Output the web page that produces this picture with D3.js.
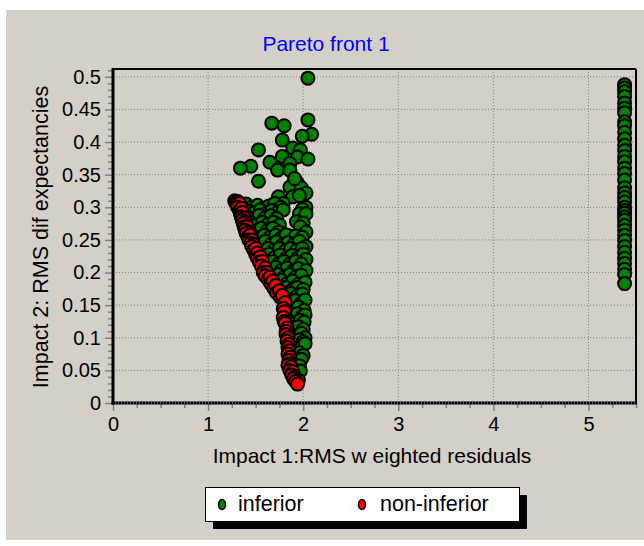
<!DOCTYPE html>
<html>
<head>
<meta charset="utf-8">
<script src="https://cdn.jsdelivr.net/npm/d3@7"></script>
<style>
  body { margin: 0; background: #ffffff; }
  text { font-family: "Liberation Sans", Arial, sans-serif; }
</style>
</head>
<body>
<svg id="chart" width="644" height="546"></svg>
<script>
// ---- chart text ----
const chartTitle = "Pareto front 1";
const xTitle = "Impact 1:RMS w eighted residuals";
const yTitle = "Impact 2: RMS dif expectancies";
const seriesNames = ["inferior", "non-inferior"];

// ---- axis ticks ----
const xTicks = [0, 1, 2, 3, 4, 5];
const xTickLabels = ["0", "1", "2", "3", "4", "5"];
const yTicks = [0, 0.05, 0.1, 0.15, 0.2, 0.25, 0.3, 0.35, 0.4, 0.45, 0.5];
const yTickLabels = ["0", "0.05", "0.1", "0.15", "0.2", "0.25", "0.3", "0.35", "0.4", "0.45", "0.5"];

// ---- inferior solutions [impact1, impact2] ----
const inferiorUpper = [
  [2.05,0.498],[2.05,0.434],[1.67,0.429],[1.80,0.425],[2.09,0.412],[1.99,0.409],
  [1.78,0.403],[1.53,0.388],[1.89,0.391],[1.97,0.388],[1.78,0.378],[1.94,0.377],
  [2.05,0.374],[1.65,0.369],[1.86,0.367],[1.45,0.363],[1.34,0.360],[1.73,0.357],
  [1.86,0.357],[1.53,0.340],[1.94,0.337],[1.86,0.331],[1.98,0.330],[1.91,0.344],
  [2.03,0.322],[1.89,0.316],[1.74,0.316],[1.96,0.318],[2.03,0.300],[1.79,0.306]
];
const inferiorCloud = [
  [1.40,0.305],[1.46,0.300],[1.52,0.303],[1.58,0.298],[1.64,0.302],[1.70,0.306],[1.76,0.300],
  [1.43,0.294],[1.49,0.292],[1.55,0.296],[1.61,0.291],[1.67,0.295],[1.73,0.292],[1.79,0.296],[1.99,0.297],
  [1.42,0.285],[1.48,0.282],[1.54,0.288],[1.60,0.284],[1.66,0.287],[1.72,0.283],[1.96,0.290],[2.03,0.290],
  [1.45,0.276],[1.51,0.273],[1.57,0.277],[1.63,0.274],[1.69,0.277],[1.75,0.273],[1.93,0.278],[2.00,0.276],
  [1.44,0.266],[1.50,0.262],[1.56,0.268],[1.62,0.264],[1.68,0.268],[1.74,0.262],[1.86,0.256],[1.97,0.270],[2.03,0.262],
  [1.47,0.256],[1.53,0.253],[1.59,0.257],[1.65,0.254],[1.71,0.257],[1.77,0.253],[1.82,0.258],[1.92,0.256],[1.99,0.254],
  [1.48,0.246],[1.54,0.242],[1.60,0.248],[1.66,0.243],[1.72,0.247],[1.78,0.242],[1.84,0.246],[1.90,0.243],[1.96,0.248],[2.03,0.240],
  [1.51,0.236],[1.57,0.233],[1.63,0.237],[1.69,0.234],[1.75,0.237],[1.81,0.233],[1.87,0.237],[1.93,0.234],[1.99,0.237],
  [1.52,0.226],[1.58,0.222],[1.64,0.228],[1.70,0.223],[1.76,0.227],[1.82,0.222],[1.88,0.226],[1.94,0.222],[2.00,0.228],[2.03,0.220],
  [1.56,0.216],[1.62,0.213],[1.68,0.217],[1.74,0.213],[1.80,0.217],[1.86,0.213],[1.92,0.217],[1.98,0.213],
  [1.59,0.206],[1.65,0.202],[1.71,0.208],[1.77,0.203],[1.83,0.207],[1.89,0.202],[1.95,0.206],[2.03,0.203],
  [1.62,0.196],[1.68,0.193],[1.74,0.197],[1.80,0.193],[1.86,0.197],[1.92,0.193],[1.98,0.196],
  [1.65,0.186],[1.71,0.182],[1.77,0.188],[1.83,0.183],[1.89,0.187],[1.95,0.182],[2.02,0.185],
  [1.70,0.176],[1.76,0.173],[1.82,0.177],[1.88,0.173],[1.94,0.177],[2.00,0.174],
  [1.75,0.166],[1.81,0.162],[1.87,0.168],[1.93,0.163],[1.99,0.167],
  [1.81,0.156],[1.86,0.153],[1.92,0.157],[1.98,0.153],[2.02,0.158],
  [1.83,0.146],[1.89,0.142],[1.95,0.147],[2.01,0.142],
  [1.84,0.136],[1.88,0.132],[1.94,0.137],[1.99,0.133],[2.02,0.135],
  [1.85,0.126],[1.91,0.122],[1.97,0.127],[2.01,0.124],
  [1.86,0.116],[1.90,0.112],[1.95,0.117],[2.00,0.113],
  [1.86,0.106],[1.92,0.102],[1.98,0.107],[2.02,0.100],
  [1.86,0.096],[1.90,0.092],[1.96,0.097],[2.00,0.094],
  [1.87,0.086],[1.93,0.082],[1.99,0.088],[2.02,0.091],
  [1.87,0.076],[1.91,0.072],[1.96,0.077],[2.00,0.073],
  [1.87,0.066],[1.93,0.062],[1.98,0.067],
  [1.88,0.056],[1.92,0.052],[1.96,0.057],
  [1.89,0.046],[1.94,0.042],[1.97,0.049],
  [1.91,0.036],[1.95,0.035]
];
const inferiorColumn = [
  [5.38,0.488],[5.38,0.483],[5.38,0.477],[5.38,0.470],[5.38,0.460],[5.38,0.452],[5.38,0.445],
  [5.38,0.431],[5.38,0.425],[5.38,0.415],[5.38,0.405],[5.38,0.395],[5.38,0.387],[5.38,0.378],
  [5.38,0.370],[5.38,0.360],[5.38,0.352],[5.38,0.342],[5.38,0.330],[5.38,0.322],[5.38,0.315],
  [5.38,0.308],[5.38,0.300],[5.38,0.295],[5.38,0.291],[5.38,0.285],[5.38,0.280],[5.38,0.272],
  [5.38,0.265],[5.38,0.257],[5.38,0.249],[5.38,0.240],[5.38,0.231],[5.38,0.222],[5.38,0.214],
  [5.38,0.205],[5.38,0.197],[5.38,0.183]
];

// ---- non-inferior solutions (the front) ----
const nonInferior = [
  [1.28,0.310],[1.29,0.307],[1.31,0.309],[1.30,0.305],[1.32,0.303],[1.33,0.306],[1.31,0.300],
  [1.33,0.295],[1.35,0.298],[1.34,0.290],[1.36,0.292],[1.35,0.285],[1.38,0.284],[1.36,0.280],
  [1.39,0.278],[1.37,0.275],[1.38,0.270],[1.41,0.270],[1.39,0.265],[1.42,0.262],[1.40,0.260],
  [1.42,0.255],[1.44,0.257],[1.43,0.250],[1.46,0.250],[1.45,0.245],[1.48,0.243],[1.46,0.240],
  [1.48,0.235],[1.50,0.237],[1.50,0.228],[1.52,0.230],[1.52,0.222],[1.55,0.224],[1.54,0.216],
  [1.57,0.217],[1.56,0.210],[1.60,0.207],[1.58,0.200],[1.62,0.200],[1.60,0.195],[1.63,0.190],
  [1.65,0.193],[1.66,0.183],[1.68,0.187],[1.69,0.176],[1.71,0.180],[1.72,0.169],[1.75,0.172],
  [1.76,0.162],[1.78,0.165],[1.81,0.154],[1.79,0.145],[1.80,0.140],[1.79,0.131],[1.80,0.125],
  [1.81,0.122],[1.83,0.115],[1.82,0.110],[1.82,0.105],[1.84,0.100],[1.83,0.095],[1.85,0.090],
  [1.84,0.085],[1.85,0.080],[1.84,0.075],[1.86,0.070],[1.85,0.065],[1.86,0.060],[1.84,0.058],
  [1.87,0.055],[1.86,0.050],[1.89,0.048],[1.88,0.043],[1.91,0.040],[1.90,0.037],[1.92,0.033],
  [1.94,0.029]
];

const inferior = inferiorUpper.concat(inferiorCloud, inferiorColumn);

// ---- layout ----
const svg = d3.select("#chart");
const panel = { x: 6, y: 10, w: 638, h: 530 };
const plot = { left: 113, right: 636, top: 69, bottom: 403 };
const colors = { inferior: "#008000", nonInferior: "#ff0000", panel: "#d4d0c8", tick: "#808080" };

const x = d3.scaleLinear().domain([0, 5.5]).range([plot.left, plot.right]);
const y = d3.scaleLinear().domain([0, 0.512]).range([plot.bottom, plot.top]);

svg.append("rect")
  .attr("x", panel.x).attr("y", panel.y)
  .attr("width", panel.w).attr("height", panel.h)
  .attr("fill", colors.panel);

// title
svg.append("text")
  .attr("x", 326).attr("y", 51)
  .attr("text-anchor", "middle")
  .attr("font-size", 21)
  .attr("fill", "#0000ff")
  .text(chartTitle);

// dotted grid
const grid = svg.append("g").attr("stroke", "#808080").attr("stroke-width", 1)
  .attr("stroke-dasharray", "1,2").attr("fill", "none");
xTicks.filter(d => d > 0).forEach(d => {
  grid.append("line").attr("x1", x(d)).attr("x2", x(d))
    .attr("y1", plot.top).attr("y2", plot.bottom);
});
yTicks.filter(d => d > 0).forEach(d => {
  grid.append("line").attr("x1", plot.left).attr("x2", plot.right)
    .attr("y1", y(d)).attr("y2", y(d));
});

// minor ticks
const xMinor = d3.range(0, 5.5001, 0.25).filter(v => Math.abs(v - Math.round(v)) > 1e-6);
const yMinor = d3.range(0, 0.5101, 0.01).filter(v => Math.abs(v * 20 - Math.round(v * 20)) > 1e-6);

const xAxis = d3.axisBottom(x)
  .tickValues(xTicks)
  .tickFormat((d, i) => xTickLabels[i])
  .tickSize(8).tickPadding(6);
const yAxis = d3.axisLeft(y)
  .tickValues(yTicks)
  .tickFormat((d, i) => yTickLabels[i])
  .tickSize(8).tickPadding(4);

const gx = svg.append("g").attr("transform", `translate(0,${plot.bottom})`).call(xAxis);
const gy = svg.append("g").attr("transform", `translate(${plot.left},0)`).call(yAxis);

svg.append("g").attr("transform", `translate(0,${plot.bottom})`)
  .call(d3.axisBottom(x).tickValues(xMinor).tickFormat("").tickSize(5))
  .call(g => g.select(".domain").remove())
  .selectAll("line").attr("stroke", colors.tick).attr("stroke-width", 1.5);
svg.append("g").attr("transform", `translate(${plot.left},0)`)
  .call(d3.axisLeft(y).tickValues(yMinor).tickFormat("").tickSize(5))
  .call(g => g.select(".domain").remove())
  .selectAll("line").attr("stroke", colors.tick).attr("stroke-width", 1.5);

[gx, gy].forEach(g => {
  g.select(".domain").remove();
  g.selectAll(".tick line").attr("stroke", colors.tick).attr("stroke-width", 1.5);
  g.selectAll(".tick text").attr("font-size", 20).attr("fill", "#000")
    .attr("font-family", "'Liberation Sans', Arial, sans-serif");
});

// frame: thick left/bottom axes, thinner top/right border
svg.append("line").attr("x1", plot.left).attr("x2", plot.right)
  .attr("y1", plot.top).attr("y2", plot.top).attr("stroke", "#000").attr("stroke-width", 2);
svg.append("line").attr("x1", plot.right).attr("x2", plot.right)
  .attr("y1", plot.top).attr("y2", plot.bottom).attr("stroke", "#000").attr("stroke-width", 2);
svg.append("line").attr("x1", plot.left).attr("x2", plot.left)
  .attr("y1", plot.top - 1).attr("y2", plot.bottom + 1.5).attr("stroke", "#000").attr("stroke-width", 3);
svg.append("line").attr("x1", plot.left - 1.5).attr("x2", plot.right + 1)
  .attr("y1", plot.bottom).attr("y2", plot.bottom).attr("stroke", "#000").attr("stroke-width", 3);
// zero grid line shows through the bottom axis
svg.append("line").attr("x1", plot.left + 2).attr("x2", plot.right)
  .attr("y1", plot.bottom).attr("y2", plot.bottom)
  .attr("stroke", "#b0b0b0").attr("stroke-width", 1).attr("stroke-dasharray", "1,2");

// points
const pts = svg.append("g");
pts.selectAll("circle.inf").data(inferior).join("circle")
  .attr("class", "inf")
  .attr("cx", d => x(d[0])).attr("cy", d => y(d[1]))
  .attr("r", 6.5)
  .attr("fill", colors.inferior).attr("stroke", "#000").attr("stroke-width", 2);
pts.selectAll("circle.non").data(nonInferior).join("circle")
  .attr("class", "non")
  .attr("cx", d => x(d[0])).attr("cy", d => y(d[1]))
  .attr("r", 6.5)
  .attr("fill", colors.nonInferior).attr("stroke", "#000").attr("stroke-width", 2);

// axis titles
svg.append("text")
  .attr("x", 372).attr("y", 463)
  .attr("text-anchor", "middle")
  .attr("font-size", 21)
  .text(xTitle);
svg.append("text")
  .attr("transform", "translate(48,237) rotate(-90)")
  .attr("text-anchor", "middle")
  .attr("font-size", 21.5)
  .text(yTitle);

// legend
const legend = svg.append("g");
legend.append("rect").attr("x", 213).attr("y", 495).attr("width", 314).attr("height", 34).attr("fill", "#000");
legend.append("rect").attr("x", 205.5).attr("y", 487.5).attr("width", 314).attr("height", 34)
  .attr("fill", "#fff").attr("stroke", "#000").attr("stroke-width", 1);
const legendItems = [
  { name: seriesNames[0], color: colors.inferior, mx: 222, tx: 238 },
  { name: seriesNames[1], color: colors.nonInferior, mx: 362, tx: 380 }
];
legendItems.forEach(it => {
  legend.append("ellipse").attr("cx", it.mx).attr("cy", 504.5).attr("rx", 3.5).attr("ry", 5)
    .attr("fill", it.color).attr("stroke", "#000").attr("stroke-width", 1.5);
  legend.append("text").attr("x", it.tx).attr("y", 511).attr("font-size", 21.5).text(it.name);
});
</script>
</body>
</html>
